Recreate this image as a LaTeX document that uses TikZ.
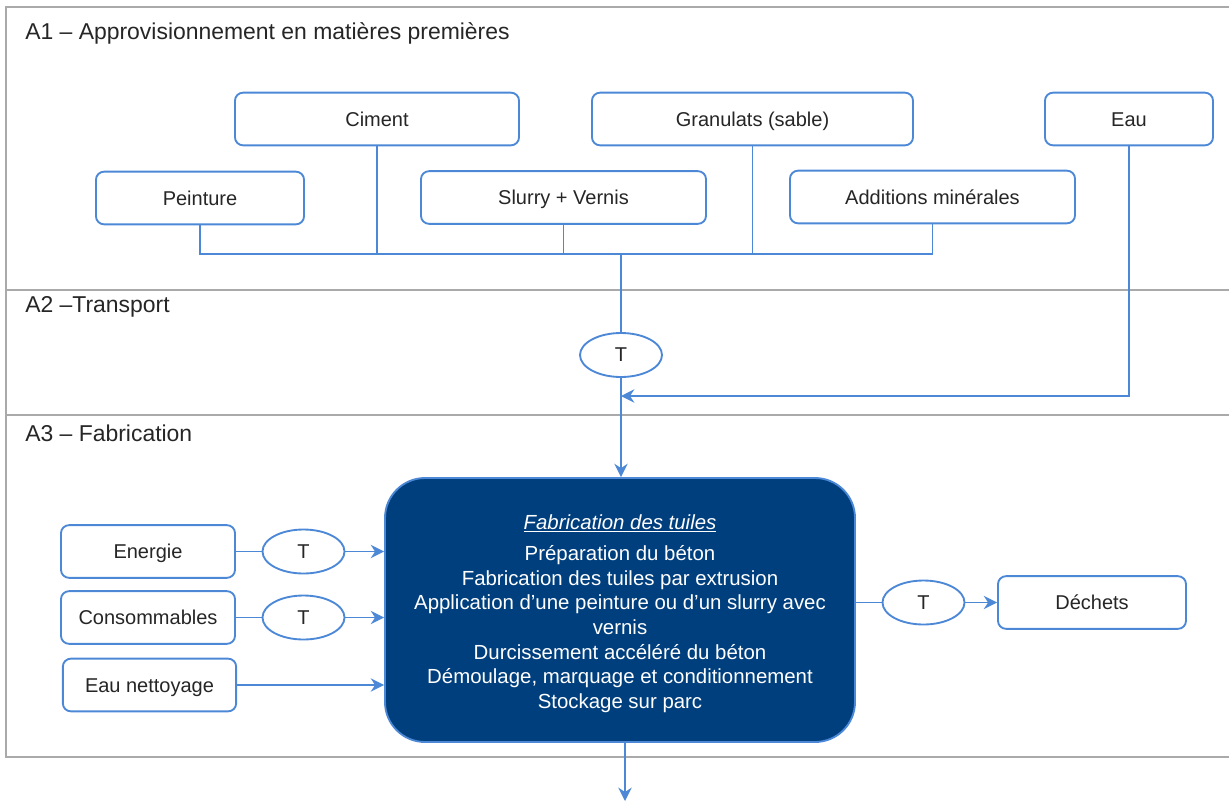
\documentclass[tikz,border=0pt]{standalone}
\usepackage{fontspec}
\setmainfont{Liberation Sans}
\usetikzlibrary{shapes.geometric,arrows.meta}

\definecolor{bleuTrait}{RGB}{76,136,214}
\definecolor{bleuFonce}{RGB}{0,63,126}
\definecolor{grisCadre}{RGB}{170,170,170}
\definecolor{texteGris}{RGB}{38,38,38}

\begin{document}
\begin{tikzpicture}[x=0.75pt,y=0.75pt,yscale=-1,xscale=1,
    cadre/.style={draw=grisCadre,line width=1.4pt},
    titre/.style={anchor=west,inner sep=0.75pt,text=texteGris,font=\fontsize{17.2}{20}\selectfont},
    boite/.style={draw=bleuTrait,line width=1.4pt,rounded corners=6pt,fill=white,text=texteGris,
                  inner sep=0pt,minimum height=39.5pt,text height=10.8pt,text depth=0pt,
                  font=\fontsize{15}{18}\selectfont},
    transp/.style={draw=bleuTrait,line width=1.4pt,ellipse,fill=white,text=texteGris,inner sep=0pt,
                   minimum width=61.5pt,minimum height=33pt,font=\fontsize{15}{18}\selectfont},
    fil/.style={draw=bleuTrait,line width=1.4pt},
    fleche/.style={fil,-{Stealth[length=10pt,width=10pt]}}]
      \useasboundingbox (0,0) rectangle (1229,801);

      %Frame of the three stages
      \draw [cadre] (1229,7) -- (6,7) -- (6,757) -- (1229,757) ;
      \draw [cadre] (6,290) -- (1229,290) ;
      \draw [cadre] (6,415) -- (1229,415) ;

      % Text Node
      \node [titre] (titreA) at (24,33) {A1 – Approvisionnement en matières premières};
      % Text Node
      \node [titre] (titreB) at (24,307) {A2 –Transport};
      % Text Node
      \node [titre] (titreC) at (24,433) {A3 – Fabrication};

      %Raw materials
      \node [boite,minimum width=213pt] (ciment) at (377,119) {Ciment};
      \node [boite,minimum width=240.75pt] (granulats) at (752.5,119) {Granulats (sable)};
      \node [boite,minimum width=126pt] (eau) at (1129,119) {Eau};
      \node [boite,minimum width=156pt] (peinture) at (200,198) {Peinture};
      \node [boite,minimum width=213.75pt] (slurry) at (563.5,197.5) {Slurry + Vernis};
      \node [boite,minimum width=213.75pt] (additions) at (932.5,197) {Additions minérales};

      %Transport
      \node [transp] (transportA) at (621,355) {T};

      %Main process
      \node [draw=bleuTrait,line width=1.4pt,fill=bleuFonce,rounded corners=30pt,text=white,
             minimum width=352.5pt,minimum height=198pt,align=center,
             font=\fontsize{15.3}{18.4}\selectfont] (fab) at (620,610)
            {\rule{0pt}{16pt}\underline{\textit{Fabrication des tuiles}}\\[5.5pt]
             Préparation du béton\\
             Fabrication des tuiles par extrusion\\
             Application d’une peinture ou d’un slurry avec\\
             vernis\\
             Durcissement accéléré du béton\\
             Démoulage, marquage et conditionnement\\
             Stockage sur parc};

      %Inputs and outputs of A3
      \node [boite,minimum width=130.5pt] (energie) at (148,551.5) {Energie};
      \node [transp] (transportB) at (303.5,551.5) {T};
      \node [boite,minimum width=130.5pt] (consommables) at (148,617.5) {Consommables};
      \node [transp] (transportC) at (303.5,617.5) {T};
      \node [boite,minimum width=130pt] (nettoyage) at (149.5,685) {Eau nettoyage};
      \node [transp] (transportD) at (923.5,602.5) {T};
      \node [boite,minimum width=141pt] (dechets) at (1092,602.5) {Déchets};

      \coordinate (jonction) at (621,254);
      \coordinate (arriveeEau) at (621,396);
      \coordinate (sortie) at (625,801);

      %Collecting lines
      \draw [fil] (peinture.south) |- (jonction) ;
      \draw [fil] (additions.south) |- (jonction) ;
      \draw [fil] (ciment.south) -- (ciment.south |- jonction) ;
      \draw [fil] (slurry.south) -- (slurry.south |- jonction) ;
      \draw [fil] (granulats.south) -- (granulats.south |- jonction) ;
      \draw [fil] (jonction) -- (transportA.north) ;
      \draw [fleche] (transportA.south) -- (transportA.south |- fab.north) ;
      \draw [fleche] (eau.south) |- (arriveeEau) ;
      \draw [fleche] (fab.south -| sortie) -- (sortie) ;

      \draw [fil] (energie.east) -- (transportB.west) ;
      \draw [fleche] (transportB.east) -- (transportB.east -| fab.west) ;
      \draw [fil] (consommables.east) -- (transportC.west) ;
      \draw [fleche] (transportC.east) -- (transportC.east -| fab.west) ;
      \draw [fleche] (nettoyage.east) -- (nettoyage.east -| fab.west) ;
      \draw [fil] (fab.east |- transportD) -- (transportD.west) ;
      \draw [fleche] (transportD.east) -- (dechets.west) ;

\end{tikzpicture}
\end{document}
